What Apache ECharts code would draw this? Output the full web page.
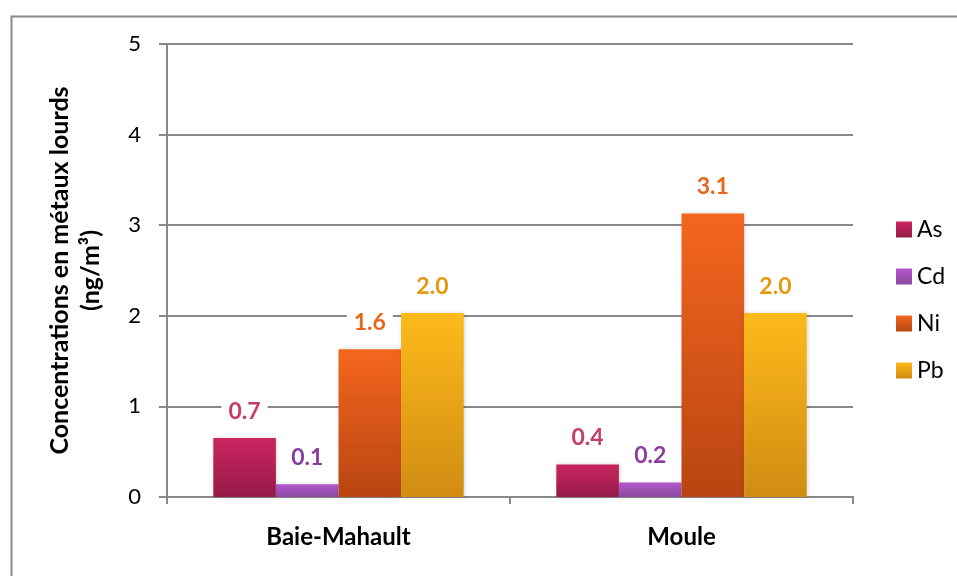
<!DOCTYPE html>
<html><head><meta charset="utf-8">
<script src="https://cdn.jsdelivr.net/npm/echarts@6/dist/echarts.min.js"></script>
<style>html,body{margin:0;padding:0;background:#fff}#c{width:957px;height:576px}</style>
</head><body><div id="c"></div>
<script>
const categories = ['Baie-Mahault', 'Moule'];
const seriesNames = ['As', 'Cd', 'Ni', 'Pb'];
const asValues = [0.65, 0.36];
const cdValues = [0.14, 0.16];
const niValues = [1.63, 3.13];
const pbValues = [2.03, 2.03];
const yTicks = [0, 1, 2, 3, 4, 5];

const values = [asValues, cdValues, niValues, pbValues];
const gradients = [
  ['#cb2560', '#951b47'],
  ['#b257cc', '#8c4a9f'],
  ['#f4661e', '#b84512'],
  ['#fdba1a', '#d08c12']
];
const labelColors = ['#c43e69', '#8a3fa0', '#e8661c', '#e39a12'];
const font = 'Lato, "Open Sans", sans-serif';
const grad = i => new echarts.graphic.LinearGradient(0, 0, 0, 1, [{ offset: 0, color: gradients[i][0] }, { offset: 1, color: gradients[i][1] }]);

const chart = echarts.init(document.getElementById('c'));
chart.setOption({
  animation: false,
  backgroundColor: '#fff',
  graphic: [{
    type: 'rect', left: 9, top: 14,
    shape: { x: 0, y: 0, width: 1000, height: 600 },
    style: { fill: 'none', stroke: '#898989', lineWidth: 2 },
    silent: true
  }],
  grid: { left: 167, right: 104, top: 44, bottom: 79 },
  legend: {
    orient: 'vertical', left: 891, top: 213,
    itemWidth: 16, itemHeight: 16, itemGap: 24,
    icon: 'rect',
    data: seriesNames.map((n, i) => ({ name: n, itemStyle: { color: grad(i) } })),
    textStyle: { fontFamily: font, fontSize: 23, color: '#000' }
  },
  xAxis: {
    type: 'category', data: categories,
    axisLine: { lineStyle: { color: '#888', width: 2 } },
    axisTick: { show: true, length: 7, lineStyle: { color: '#888', width: 2 } },
    axisLabel: { fontFamily: font, fontSize: 24, fontWeight: 'bold', color: '#000', margin: 28 }
  },
  yAxis: {
    type: 'value', min: 0, max: 5, interval: 1,
    name: 'Concentrations en métaux lourds\n(ng/m³)',
    nameLocation: 'middle', nameGap: 61, nameRotate: 90,
    nameTextStyle: { fontFamily: font, fontSize: 25, fontWeight: 'bold', color: '#000', lineHeight: 31 },
    axisLine: { show: true, lineStyle: { color: '#888', width: 2 } },
    axisTick: { show: true, length: 8, lineStyle: { color: '#888', width: 2 } },
    axisLabel: { fontFamily: font, fontSize: 22, color: '#000', margin: 26 },
    splitLine: { lineStyle: { color: '#888', width: 2 } }
  },
  series: seriesNames.map((n, i) => ({
    name: n, type: 'bar', data: values[i],
    barGap: '0%', barCategoryGap: '27%',
    itemStyle: {
      color: grad(i),
      shadowColor: 'rgba(0,0,0,0.15)', shadowBlur: 4, shadowOffsetX: 1
    },
    label: {
      show: true, position: 'top', distance: 15,
      formatter: p => p.value.toFixed(1),
      fontFamily: font, fontSize: 23, fontWeight: 'bold', color: labelColors[i],
      backgroundColor: '#fff', padding: [0, 7]
    }
  }))
});
</script></body></html>
